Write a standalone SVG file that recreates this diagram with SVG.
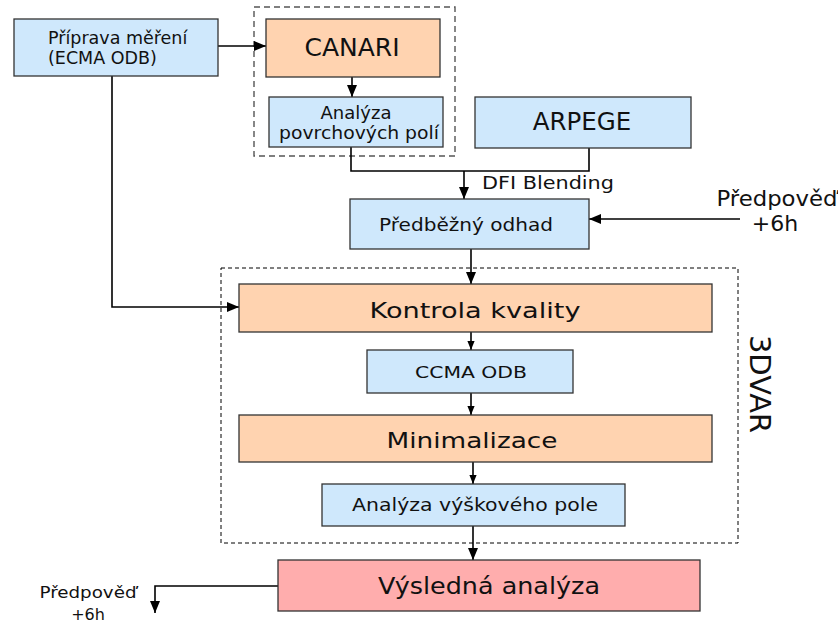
<svg xmlns="http://www.w3.org/2000/svg" width="838" height="624" viewBox="0 0 838 624">
<defs>
<style>
.box{stroke:#333;stroke-width:1.3}
.blue{fill:#cfe8fc}
.peach{fill:#ffd3b0}
.pink{fill:#ffadad}
text{font-family:"DejaVu Sans","Noto Sans",sans-serif;fill:#111}
.c{text-anchor:middle}
.ln{fill:none;stroke:#000;stroke-width:1.6}
</style>
<marker id="ah" viewBox="0 0 12 10" refX="12" refY="5" markerWidth="12" markerHeight="10" markerUnits="userSpaceOnUse" orient="auto">
<path d="M0,0 L12,5 L0,10 Z" fill="#000"/>
</marker>
<marker id="as" viewBox="0 0 10 8" refX="10" refY="4" markerWidth="9" markerHeight="8" markerUnits="userSpaceOnUse" orient="auto">
<path d="M0,0 L10,4 L0,8 Z" fill="#000"/>
</marker>
</defs>
<rect width="838" height="624" fill="#fff"/>

<g id="groups">
<rect x="254" y="7" width="201" height="149" fill="none" stroke="#555" stroke-width="1.4" stroke-dasharray="6,4"/>
<rect x="221" y="268" width="517" height="275" fill="none" stroke="#000" stroke-width="1" stroke-dasharray="4,3"/>
<text transform="translate(750,384) rotate(90)" class="c" font-size="29">3DVAR</text>
</g>

<g id="connectors">
<path class="ln" d="M218,46 H266" marker-end="url(#ah)"/>
<path class="ln" d="M352,77 V97" marker-end="url(#ah)"/>
<path class="ln" d="M351,147 V171 H589 V148"/>
<path class="ln" d="M464,171 V199" marker-end="url(#ah)"/>
<path class="ln" d="M740,219 H589" marker-end="url(#ah)"/>
<path class="ln" d="M471,249 V284" marker-end="url(#ah)"/>
<path class="ln" d="M112,76 V307 H239" marker-end="url(#ah)"/>
<path class="ln" d="M471,332 V350" marker-end="url(#as)" stroke-width="1.2"/>
<path class="ln" d="M471,393 V415" marker-end="url(#as)" stroke-width="1.2"/>
<path class="ln" d="M473,462 V484" marker-end="url(#as)" stroke-width="1.2"/>
<path class="ln" d="M473,526 V560" marker-end="url(#ah)"/>
<path class="ln" d="M278,586 H155 V613" marker-end="url(#ah)" stroke-width="2.4"/>
<text x="482" y="189" font-size="17" textLength="132" lengthAdjust="spacingAndGlyphs">DFI Blending</text>
<text x="777" y="206" class="c" font-size="22" textLength="121" lengthAdjust="spacingAndGlyphs">Předpověď</text>
<text x="775" y="231" class="c" font-size="22">+6h</text>
<text x="88" y="598" class="c" font-size="16" textLength="97" lengthAdjust="spacingAndGlyphs">Předpověď</text>
<text x="88" y="620" class="c" font-size="16">+6h</text>
</g>

<g id="priprava">
<rect class="box blue" x="14" y="19" width="204" height="57"/>
<text x="48" y="44" font-size="17.5">Příprava měření</text>
<text x="48" y="64" font-size="17.5">(ECMA ODB)</text>
</g>
<g id="canari">
<rect class="box peach" x="266" y="19" width="174" height="58"/>
<text x="352" y="56" class="c" font-size="25">CANARI</text>
</g>
<g id="analyza-povrch">
<rect class="box blue" x="269" y="97" width="174" height="50"/>
<text x="356" y="119" class="c" font-size="17" textLength="71" lengthAdjust="spacingAndGlyphs">Analýza</text>
<text x="359" y="139" class="c" font-size="17" textLength="160" lengthAdjust="spacingAndGlyphs">povrchových polí</text>
</g>
<g id="arpege">
<rect class="box blue" x="475" y="97" width="216" height="51"/>
<text x="582" y="130" class="c" font-size="24.5">ARPEGE</text>
</g>
<g id="predbezny">
<rect class="box blue" x="350" y="199" width="239" height="50"/>
<text x="466" y="231" class="c" font-size="17" textLength="174" lengthAdjust="spacingAndGlyphs">Předběžný odhad</text>
</g>
<g id="kontrola">
<rect class="box peach" x="239" y="284" width="473" height="48"/>
<text x="475" y="318" class="c" font-size="22" textLength="211" lengthAdjust="spacingAndGlyphs">Kontrola kvality</text>
</g>
<g id="ccma">
<rect class="box blue" x="367" y="350" width="206" height="43"/>
<text x="471" y="378" class="c" font-size="16.5" textLength="112" lengthAdjust="spacingAndGlyphs">CCMA ODB</text>
</g>
<g id="minimalizace">
<rect class="box peach" x="239" y="415" width="473" height="47"/>
<text x="472" y="448" class="c" font-size="22" textLength="171" lengthAdjust="spacingAndGlyphs">Minimalizace</text>
</g>
<g id="analyza-vysk">
<rect class="box blue" x="322" y="484" width="303" height="42"/>
<text x="475" y="511" class="c" font-size="17" textLength="246" lengthAdjust="spacingAndGlyphs">Analýza výškového pole</text>
</g>
<g id="vysledna">
<rect class="box pink" x="278" y="560" width="422" height="51"/>
<text x="489" y="594" class="c" font-size="23.5" textLength="222" lengthAdjust="spacingAndGlyphs">Výsledná analýza</text>
</g>
</svg>
